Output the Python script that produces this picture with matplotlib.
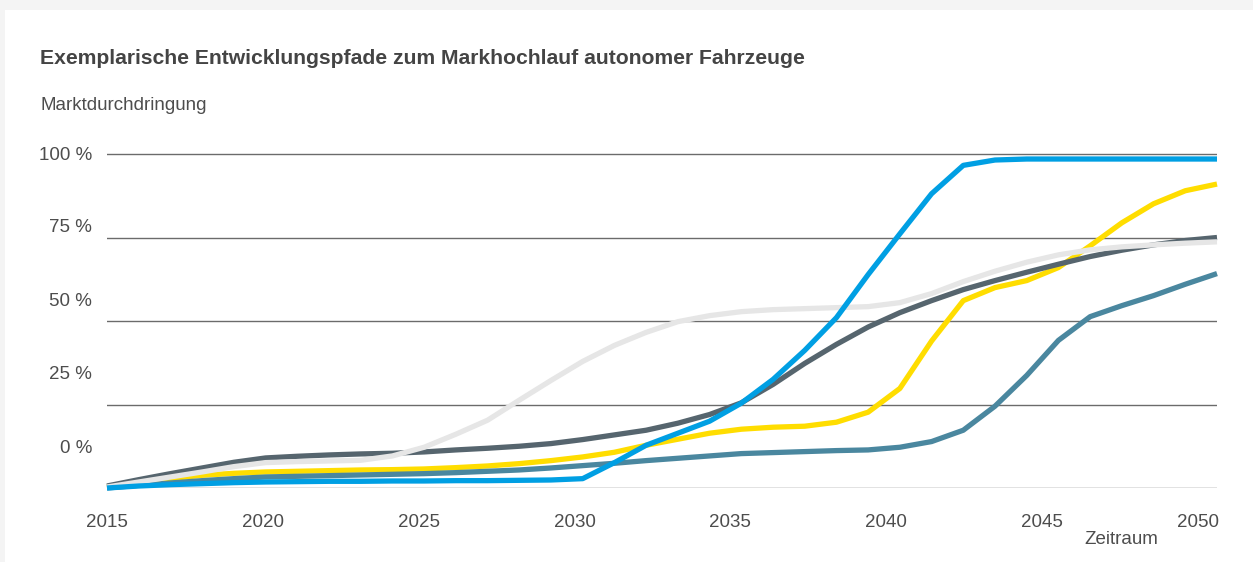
import matplotlib.pyplot as plt
import numpy as np
from matplotlib.patches import Rectangle

plt.rcParams['font.family'] = ['Liberation Sans', 'DejaVu Sans']

jahre = np.arange(2015, 2051)

# Marktdurchdringung in % je Pfad
pfad_gelb = [0.3, 1.6, 2.8, 3.8, 4.4, 4.8, 5.0, 5.2, 5.4, 5.5, 5.7, 6.1, 6.6, 7.3, 8.2, 9.3,
             10.7, 12.8, 14.6, 16.4, 17.6, 18.2, 18.5, 19.7, 22.7, 29.8, 44.0, 56.1, 60.0, 62.1,
             66.0, 72.5, 79.4, 85.1, 89.0, 91.0]
pfad_petrol = [0.0, 0.8, 1.5, 2.2, 2.8, 3.3, 3.5, 3.7, 3.9, 4.1, 4.3, 4.6, 5.0, 5.4, 6.0, 6.7,
               7.4, 8.2, 8.9, 9.6, 10.3, 10.6, 10.9, 11.2, 11.4, 12.2, 13.9, 17.3, 24.5, 33.7,
               44.2, 51.3, 54.6, 57.6, 61.0, 64.2]
pfad_dunkelgrau = [0.6, 2.5, 4.3, 6.0, 7.7, 9.0, 9.5, 9.9, 10.2, 10.4, 10.8, 11.4, 11.9, 12.5,
                   13.3, 14.5, 15.9, 17.3, 19.4, 22.0, 25.5, 31.0, 37.3, 43.0, 48.2, 52.5, 56.1,
                   59.4, 62.1, 64.6, 67.0, 69.3, 71.2, 72.8, 74.1, 75.0]
pfad_hellgrau = [0.3, 1.8, 3.3, 4.8, 6.4, 7.6, 7.9, 8.1, 8.3, 9.6, 12.2, 16.1, 20.3, 26.3, 32.2,
                 37.9, 42.7, 46.6, 49.8, 51.6, 52.8, 53.4, 53.7, 54.0, 54.3, 55.5, 58.2, 61.8,
                 64.9, 67.6, 69.8, 71.3, 72.2, 72.8, 73.3, 73.7]
pfad_blau = [0.0, 0.6, 1.0, 1.3, 1.6, 1.8, 1.9, 2.0, 2.0, 2.1, 2.1, 2.2, 2.2, 2.3, 2.4, 2.8,
             7.6, 12.8, 16.4, 20.0, 25.4, 32.5, 41.2, 51.0, 63.9, 76.1, 88.1, 96.6, 98.2, 98.5,
             98.5, 98.5, 98.5, 98.5, 98.5, 98.5]

gitter = [0, 25, 50, 75, 100]
y_labels = ['100 %', '75 %', '50 %', '25 %', '0 %']
y_label_pos = [100.3, 78.5, 56.4, 34.6, 12.5]
x_labels = ['2015', '2020', '2025', '2030', '2035', '2040', '2045', '2050']

textfarbe = '#4d4d4d'

fig = plt.figure(figsize=(12.53, 5.62), dpi=100)
fig.patch.set_facecolor('#f4f4f4')
fig.patches.append(Rectangle((5 / 1253, 0), 1, 1 - 10 / 562, transform=fig.transFigure,
                             facecolor='white', edgecolor='none', zorder=-5))

ax = fig.add_axes([107 / 1253, 1 - 488 / 562, 1110 / 1253, 335 / 562])
ax.set_facecolor('none')
ax.set_zorder(2)

for g in gitter:
    ax.axhline(g, color='#6b6b6b', lw=1.0, zorder=1)

stil = dict(lw=3.8, clip_on=False, solid_capstyle='butt', solid_joinstyle='round')
ax.plot(jahre, pfad_gelb, color='#ffdd00', zorder=2, **stil)
ax.plot(jahre, pfad_petrol, color='#4a879f', zorder=3, **stil)
ax.plot(jahre, pfad_dunkelgrau, color='#56656e', zorder=4, **stil)
ax.plot(jahre, pfad_hellgrau, color='#e6e6e6', zorder=5, **stil)
ax.plot(jahre, pfad_blau, color='#009fe3', zorder=6, **stil)

ax.set_xlim(2015, 2050)
ax.set_ylim(0, 100)
for s in ax.spines.values():
    s.set_visible(False)

ax.set_yticks(y_label_pos)
ax.set_yticklabels(y_labels)
ax.set_xticks(np.linspace(2015, 2015 + 1091 * 35 / 1110, len(x_labels)))
ax.set_xticklabels(x_labels)
ax.tick_params(axis='y', length=0, pad=10.8, labelsize=13.5, labelcolor=textfarbe)
ax.tick_params(axis='x', length=0, pad=19, labelsize=13.5, labelcolor=textfarbe)

fig.text(40 / 1253, 1 - 58 / 562, 'Exemplarische Entwicklungspfade zum Markhochlauf autonomer Fahrzeuge',
         fontsize=15.2, fontweight='bold', color='#444444', va='center', ha='left')
fig.text(40 / 1253, 1 - 106 / 562, 'Marktdurchdringung', fontsize=13.5, color=textfarbe,
         va='center', ha='left')
fig.text(1121 / 1253, 1 - 540 / 562, 'Zeitraum', fontsize=13.5, color=textfarbe,
         va='center', ha='center')

fig.savefig('out.png', dpi=100, facecolor=fig.get_facecolor())
